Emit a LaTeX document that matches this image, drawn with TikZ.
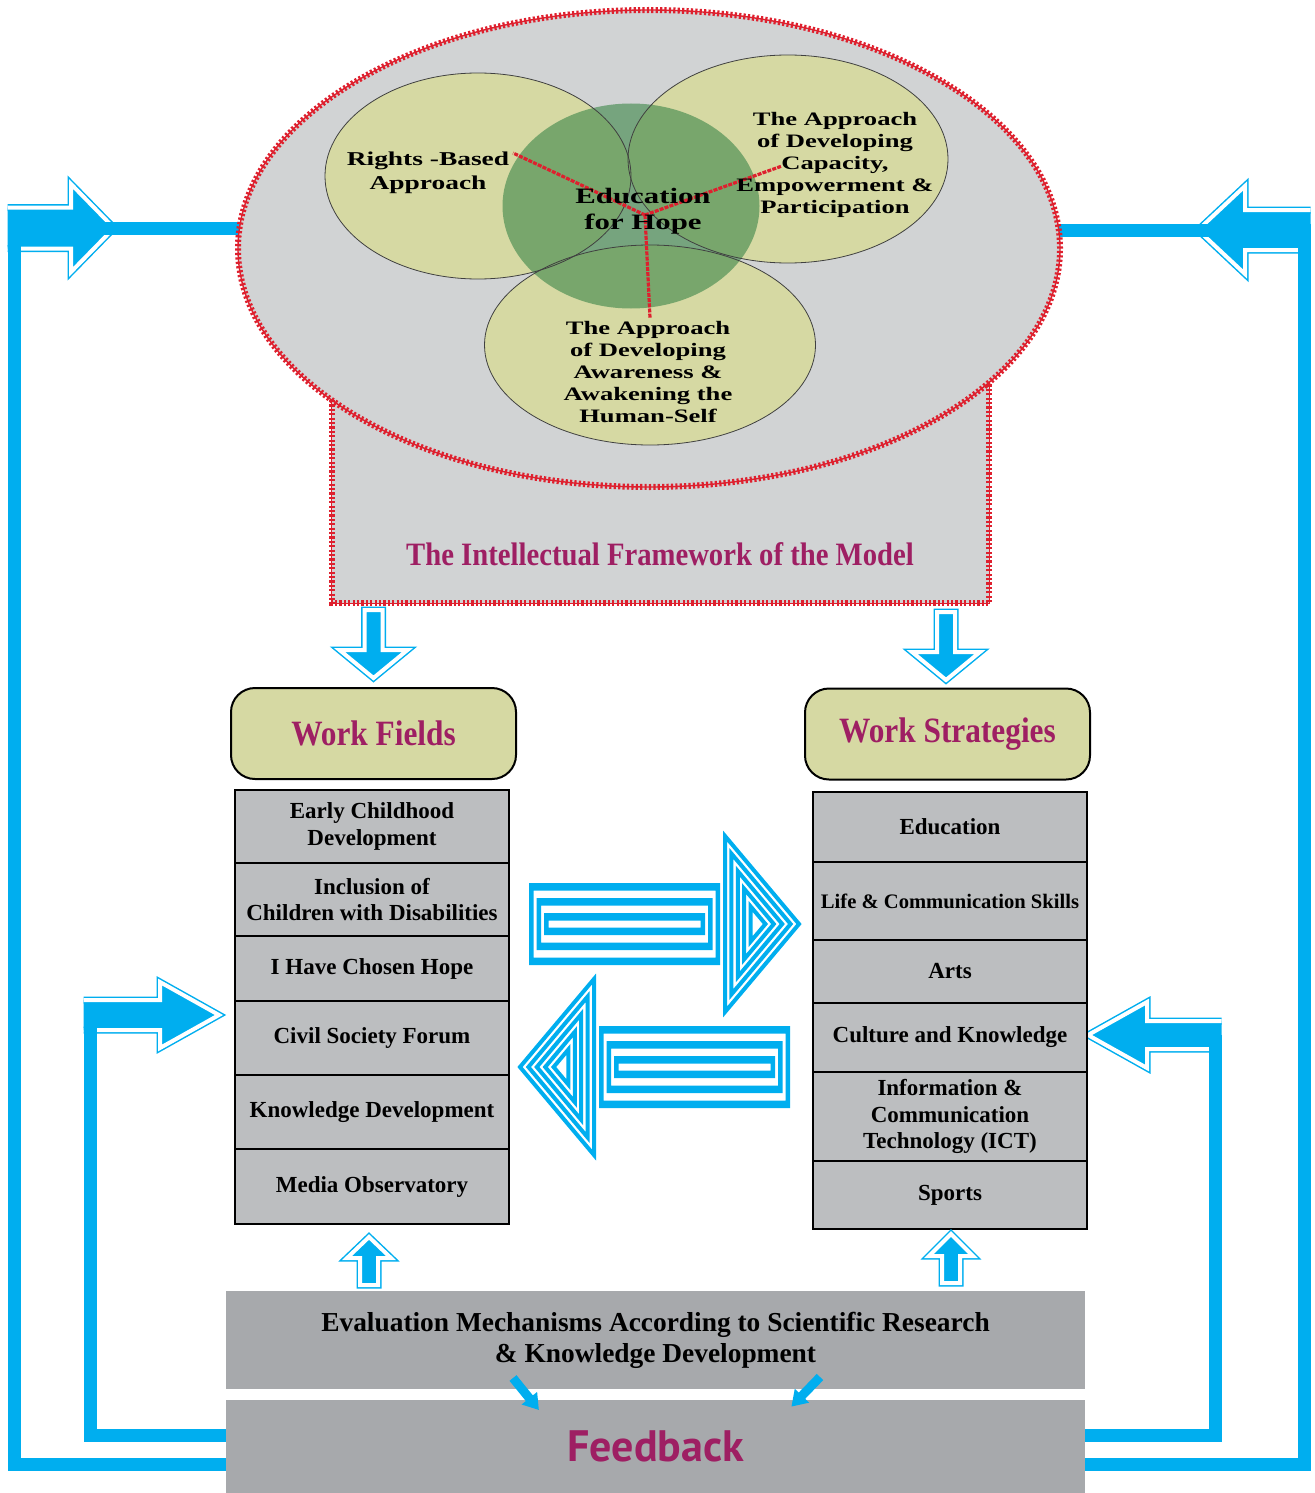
\documentclass[tikz,border=0pt]{standalone}
\usepackage{fontspec}
\setmainfont{Liberation Serif}
\newfontfamily\vennfont[FakeStretch=1.4]{Liberation Serif}
\newfontfamily\condserif[FakeStretch=0.88]{Liberation Serif}
\newfontfamily\fbfont{PT Sans}
\usetikzlibrary{shapes.geometric}

\definecolor{loopcyan}{RGB}{0,174,239}
\definecolor{titlemag}{RGB}{158,31,99}
\definecolor{framegray}{RGB}{209,211,212}
\definecolor{vennyellow}{RGB}{214,217,163}
\definecolor{hopegreen}{RGB}{70,140,80}
\definecolor{beadred}{RGB}{222,32,46}
\definecolor{cellgray}{RGB}{188,190,192}
\definecolor{boxgray}{RGB}{167,169,172}

% block arrow, back centre at the origin, pointing along +x (open at the back)
\newcommand{\arrowpath}[4]{(0,#2) -- ({#1-#4},#2) -- ({#1-#4},#3) -- (#1,0) -- ({#1-#4},-#3) -- ({#1-#4},-#2) -- (0,-#2)}

% striped arrow between the two lists
\newcommand{\ringarrow}{%
  \foreach \k in {0,1,2}
    \fill[loopcyan, even odd rule] ({7.5*\k},{-41+15*\k}) rectangle ({191-7.5*\k},{41-15*\k})
      ({4.5+7.5*\k},{-33.5+15*\k}) rectangle ({186.5-7.5*\k},{33.5-15*\k});
  \foreach \f in {1,0.8,0.6,0.4,0.2}
    \draw[loopcyan, line width=2pt] ({228-32*\f},{-88*\f}) -- ({228+42*\f},0) -- ({228-32*\f},{88*\f}) -- cycle;
}

\begin{document}
\begin{tikzpicture}[x=0.5pt, y=-0.5pt,
  fancyarrow/.style={fill=loopcyan, draw=white, line width=2pt, line join=miter,
    preaction={draw=loopcyan, line width=3.5pt, line join=miter}},
  loopbar/.style={draw=loopcyan, line width=6.5pt, line join=miter},
  bead/.style={draw=beadred, line width=3pt, dash pattern=on 1.1pt off 1.1pt,
    postaction={draw=beadred, line width=0.7pt, solid}},
  venn/.style={ellipse, fill=vennyellow, inner sep=0pt},
  vennline/.style={draw=black!75, line width=0.4pt},
  venntext/.style={align=center, inner sep=0pt, font=\vennfont\bfseries\fontsize{9.5}{11}\selectfont},
  spoke/.style={draw=beadred, line width=1.6pt, dash pattern=on 2pt off 0.6pt},
  header/.style={draw=black, line width=1pt, fill=vennyellow, rounded corners=12pt,
    minimum width=142.5pt, minimum height=45.5pt, text=titlemag,
    font=\condserif\bfseries\fontsize{17.8}{20}\selectfont},
  cell/.style={draw=black, line width=1pt, fill=cellgray, minimum width=137pt, inner sep=0pt,
    align=center, font=\bfseries\fontsize{11.5}{13.3}\selectfont}]

\useasboundingbox (0,0) rectangle (1314,1493);

%% bottom boxes
\node[fill=boxgray, minimum width=429.5pt, minimum height=49pt, inner sep=0pt, align=center,
  font=\bfseries\fontsize{13.7}{15.5}\selectfont] (eval) at (655.5,1340)
  {Evaluation Mechanisms According to Scientific Research\\\& Knowledge Development};
\node[fill=boxgray, minimum width=429.5pt, minimum height=46.5pt, inner sep=0pt, text=titlemag,
  font=\fbfont\bfseries\fontsize{22}{26}\selectfont] (feedback) at (655.5,1446.5) {Feedback};

%% feedback loops
\draw[fancyarrow, shift={(7.5,228)}] \arrowpath{106.5}{20.5}{44}{43};
\draw[fancyarrow, shift={(1310.5,230)}, rotate=180] \arrowpath{112.5}{20}{44}{47};
\draw[fancyarrow, shift={(83.5,1015)}] \arrowpath{135.5}{15}{33}{59};
\draw[fancyarrow, shift={(1221.5,1035)}, rotate=180] \arrowpath{133.5}{14}{33}{59};

\draw[loopbar] (feedback.west |- 0,1464) -| (14,228) -- (649,228);
\draw[loopbar] (feedback.east |- 0,1464) -| (1304,230) -- (649,230);
\draw[loopbar] (feedback.west |- 0,1435) -| (90,1015);
\draw[loopbar] (feedback.east |- 0,1435) -| (1215,1035);

%% intellectual framework
\node[fill=framegray, minimum width=328.5pt, minimum height=151.5pt, inner sep=0pt] (framebox) at (660.5,451.5) {};
\node[ellipse, bead, fill=framegray, minimum width=411pt, minimum height=238.5pt, inner sep=0pt] (frame) at (649,248.5) {};
\draw[bead] (framebox.south west |- 0,400) -- (framebox.south west) -- (framebox.south east) -- (framebox.south east |- 0,383);

\node[venn, minimum width=153pt, minimum height=103pt] (rights) at (478,176) {};
\node[venn, minimum width=160pt, minimum height=104pt] (capacity) at (788,159) {};
\node[venn, minimum width=165.5pt, minimum height=100pt] (awareness) at (650,345) {};
\node[ellipse, fill=hopegreen, fill opacity=0.65, minimum width=128.5pt, minimum height=102.5pt, inner sep=0pt] (hope) at (631,206) {};
\draw[vennline] (rights.center) ellipse [x radius=76.5pt, y radius=51.5pt];
\draw[vennline] (capacity.center) ellipse [x radius=80pt, y radius=52pt];
\draw[vennline] (awareness.center) ellipse [x radius=82.75pt, y radius=50pt];

\coordinate (hub) at (645,215);
\coordinate (spokeL) at (513,153);
\coordinate (spokeR) at (782,166);
\coordinate (spokeB) at (650,318);
\draw[spoke] (hub) -- (spokeL);
\draw[spoke] (hub) -- (spokeR);
\draw[spoke] (hub) -- (spokeB);

\node[venntext, font=\vennfont\bfseries\fontsize{9.8}{12}\selectfont] (rightstext) at (428,173) {Rights -Based\\Approach};
\node[venntext] (capacitytext) at (835,165) {The Approach\\of Developing\\Capacity,\\Empowerment \&\\Participation};
\node[venntext] (awaretext) at (648,372) {The Approach\\of Developing\\Awareness \&\\Awakening the\\Human-Self};
\node[venntext, font=\vennfont\bfseries\fontsize{11}{13}\selectfont] (hopetext) at (643,211) {Education\\for Hope};

\node[text=titlemag, font=\condserif\bfseries\fontsize{16.3}{19}\selectfont] (fwtitle) at (660,554)
  {The Intellectual Framework of the Model};

%% into the two columns
\draw[fancyarrow, shift={(373.5,610)}, rotate=-90] \arrowpath{68}{9}{34}{28} -- cycle;
\draw[fancyarrow, shift={(946,612)}, rotate=-90] \arrowpath{68}{9}{34}{28} -- cycle;

\node[header] (fieldshead) at (373.5,733.5) {Work Fields};
\node[header] (strathead) at (947.5,734) {Work Strategies};

\foreach \ya/\yb/\txt [count=\i] in {790/863/{Early Childhood\\Development},
    863/936/{Inclusion of\\Children with Disabilities}, 936/1001/{I Have Chosen Hope},
    1001/1075/{Civil Society Forum}, 1075/1149/{Knowledge Development}, 1149/1224/{Media Observatory}}
  \node[cell, minimum height={(\yb-\ya)*0.5pt}] (field\i) at (372,{(\ya+\yb)/2}) {\txt};

\foreach \ya/\yb/\txt [count=\i] in {792/862/{Education},
    862/940/{\fontsize{10.3}{12}\selectfont Life \& Communication Skills}, 940/1003/{Arts},
    1003/1072/{Culture and Knowledge}, 1072/1161/{Information \&\\Communication\\Technology (ICT)},
    1161/1229/{Sports}}
  \node[cell, minimum height={(\yb-\ya)*0.5pt}] (strat\i) at (950,{(\ya+\yb)/2}) {\txt};

%% exchange between fields and strategies
\begin{scope}[shift={(529,924)}]
  \ringarrow
\end{scope}
\begin{scope}[shift={(790,1067)}, xscale=-1]
  \ringarrow
\end{scope}

%% evaluation back into the columns
\draw[fancyarrow, shift={(369,1285)}, rotate=90] \arrowpath{48}{9}{22}{21} -- cycle;
\draw[fancyarrow, shift={(951,1283)}, rotate=90] \arrowpath{49}{9}{22}{22} -- cycle;
\fill[loopcyan, shift={(513,1378)}, rotate=-51] \arrowpath{41}{4.5}{10}{15} -- cycle;
\fill[loopcyan, shift={(820,1377)}, rotate=-134] \arrowpath{41}{4.5}{10}{15} -- cycle;
\end{tikzpicture}
\end{document}
